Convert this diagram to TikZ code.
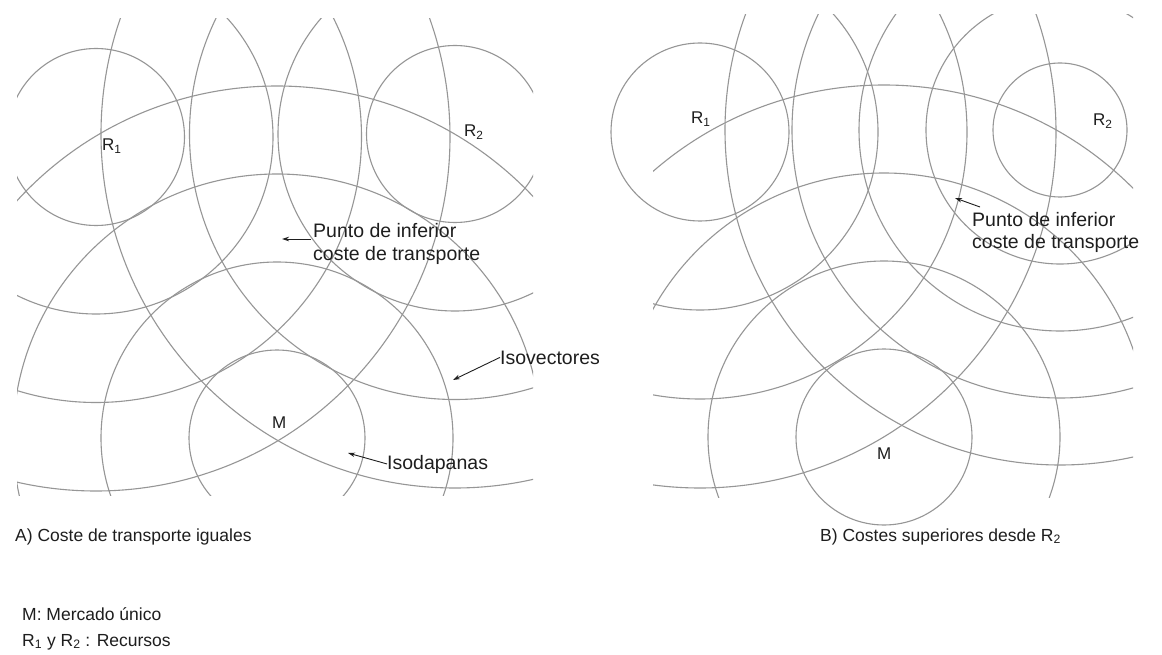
\documentclass[tikz,border=0pt]{standalone}
\usepackage{fontspec}
\setmainfont{Liberation Sans}
\usetikzlibrary{arrows.meta}
\definecolor{isoline}{RGB}{150,150,150}
\definecolor{ink}{RGB}{30,30,30}
\begin{document}
\begin{tikzpicture}[x=1pt,y=-1pt,
  iso/.style={draw=isoline,line width=1.1pt},
  site/.style={font=\fontsize{17}{20}\selectfont,text=ink,inner sep=0pt,anchor=base west},
  note/.style={font=\fontsize{19.5}{22}\selectfont,text=ink,inner sep=0pt,anchor=base west},
  caption/.style={font=\fontsize{17.5}{26}\selectfont,text=ink,inner sep=0pt,anchor=base west},
  pointer/.style={draw=ink,line width=0.9pt,-{Stealth[length=7pt,width=4.5pt]}},
]
\useasboundingbox (0,0) rectangle (1162,655);
\fill[white] (0,0) rectangle (1162,655);

% ---- A) equal transport costs: same spacing around R1, R2 and M
\coordinate (R1a) at (96,137);
\coordinate (R2a) at (455,134);
\coordinate (Ma)  at (277,438);
\begin{scope}
  \clip (17,19) rectangle (533,495);
  \foreach \k in {1,...,4}{
    \draw[iso] (R1a) circle[radius=\k*88.5pt];
    \draw[iso] (R2a) circle[radius=\k*88.5pt];
    \draw[iso] (Ma)  circle[radius=\k*88pt];
  }
\end{scope}

\node[site] (r1a) at (102,151) {R\textsubscript{1}};
\node[site] (r2a) at (464,137) {R\textsubscript{2}};
\node[site] (ma)  at (272,428) {M};

\node[note] (puntoA) at (313,238)
  {\begin{tabular}[t]{@{}l@{}}Punto de inferior\\coste de transporte\end{tabular}};
\coordinate (puntoAfrom) at (311,239);
\coordinate (puntoAtip)  at (282,239);
\draw[pointer] (puntoAfrom) -- (puntoAtip);

\node[note] (isovec) at (500,364) {Isovectores};
\coordinate (isovecTip) at (453,380);
\draw[pointer] (isovec.west) -- (isovecTip);

\node[note] (isodap) at (387,469) {Isodapanas};
\coordinate (isodapTip) at (348,453);
\draw[pointer] (isodap.west) -- (isodapTip);

\node[caption] (capA) at (15,541) {A) Coste de transporte iguales};

% ---- B) higher costs from R2: tighter spacing around R2
\coordinate (R1b) at (700,132);
\coordinate (R2b) at (1060,130);
\coordinate (Mb)  at (884,437);
\draw[iso] (R1b) circle[radius=89pt];
\draw[iso] (Mb)  circle[radius=88pt];
\begin{scope}
  \clip (653,15) rectangle (1133,497);
  \foreach \k in {2,3,4}{
    \draw[iso] (R1b) circle[radius=\k*89pt];
    \draw[iso] (Mb)  circle[radius=\k*88pt];
  }
  \foreach \k in {1,...,5}{
    \draw[iso] (R2b) circle[radius=\k*67pt];
  }
\end{scope}

\node[site] (r1b) at (691,124) {R\textsubscript{1}};
\node[site] (r2b) at (1093,126) {R\textsubscript{2}};
\node[site] (mb)  at (877,459) {M};

\node[note] (puntoB) at (972,226)
  {\begin{tabular}[t]{@{}l@{}}Punto de inferior\\coste de transporte\end{tabular}};
\coordinate (puntoBfrom) at (980,207);
\coordinate (puntoBtip)  at (955,198);
\draw[pointer] (puntoBfrom) -- (puntoBtip);

\node[caption] (capB) at (820,541) {B) Costes superiores desde R\textsubscript{2}};

% ---- key
\node[caption] (keyM) at (22,620) {M: Mercado único};
\node[caption] (keyR) at (22,646) {R\textsubscript{1} y R\textsubscript{2} : Recursos};
\end{tikzpicture}
\end{document}
